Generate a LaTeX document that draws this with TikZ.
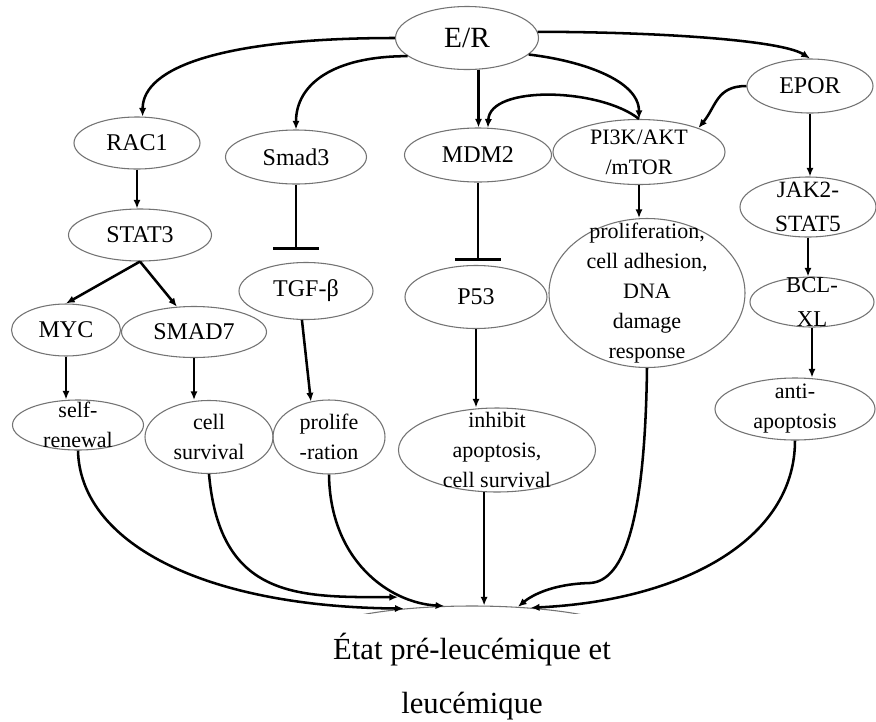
\documentclass[tikz,border=0pt]{standalone}
\usepackage{fontspec}
\setmainfont{Liberation Serif}
\usetikzlibrary{arrows.meta,shapes.geometric}
\begin{document}
\begin{tikzpicture}[x=0.75pt,y=-0.75pt,
  ell/.style={ellipse, draw=black!55, line width=0.8pt, inner sep=0pt},
  sz/.style 2 args={minimum width=#1*0.75pt, minimum height=#2*0.75pt},
  lbl/.style={font=\fontsize{18}{22.5}\selectfont, align=center, inner sep=0pt},
  outtxt/.style={font=\fontsize{16.5}{22.5}\selectfont, align=center, inner sep=0pt},
  arr/.style={line width=1.9pt, -{Latex[length=6.5pt,width=5.5pt]}},
  inhib/.style={line width=1.9pt, -{Bar[width=34pt,line width=2.2pt]}},
]
\useasboundingbox[fill=white] (0,0) rectangle (876,722);

% nodes
\node[ell, sz={143}{63}, label={[lbl, font=\fontsize{22}{26}\selectfont]center:E/R}] (er) at (467,38) {};
\node[ell, sz={126}{52}, label={[lbl]center:RAC1}] (rac1) at (137,143) {};
\node[ell, sz={141}{54}, label={[lbl]center:Smad3}] (smad3) at (296,157) {};
\node[ell, sz={147}{54}, label={[lbl]center:MDM2}] (mdm2) at (478,155) {};
\node[ell, sz={172}{65}, label={[lbl, font=\fontsize{16.5}{22.5}\selectfont]center:{PI3K/AKT\\/mTOR}}] (pi3k) at (639,152) {};
\node[ell, sz={126}{54}, label={[lbl]center:EPOR}] (epor) at (810,86) {};
\node[ell, sz={143}{52}, label={[lbl]center:STAT3}] (stat3) at (140,235) {};
\node[ell, sz={134}{57}, label={[lbl]center:TGF-β}] (tgf) at (306,291) {};
\node[ell, sz={109}{52}, label={[lbl]center:MYC}] (myc) at (66,330) {};
\node[ell, sz={145}{51}, label={[lbl]center:SMAD7}] (smad7) at (194,332) {};
\node[ell, sz={142}{63}, label={[lbl]center:P53}] (p53) at (476,297) {};
\node[ell, sz={196}{149}, label={[outtxt]center:{proliferation,\\cell adhesion,\\DNA\\damage\\response}}] (pro) at (647,293) {};
\node[ell, sz={136}{60}, label={[lbl, font=\fontsize{17.5}{25}\selectfont]center:{JAK2-\\STAT5}}] (jak2) at (808,207) {};
\node[ell, sz={124}{50}, label={[lbl, font=\fontsize{17}{25}\selectfont]center:{BCL-\\XL}}] (bcl) at (812,302) {};
\node[ell, sz={160}{62}, label={[outtxt]center:{anti-\\apoptosis}}] (anti) at (795,409) {};
\node[ell, sz={131}{50}, label={[outtxt]center:{self-\\renewal}}] (sr) at (78,425) {};
\node[ell, sz={128}{73}, label={[outtxt]center:{cell\\survival}}] (cs) at (209,437) {};
\node[ell, sz={112}{74}, label={[outtxt]center:{prolife\\-ration}}] (prol) at (329,437) {};
\node[ell, sz={197}{84}, label={[outtxt]center:{inhibit\\apoptosis,\\cell survival}}] (inh) at (497,450) {};
\begin{scope}
  \clip (0,0) rectangle (876,613);
  \node[ell, sz={324}{66}] (st) at (472,639) {};
\end{scope}
\node[font=\fontsize{23}{27}\selectfont, inner sep=0pt] (t1) at (472,650) {État pré-leucémique et};
\node[font=\fontsize{23}{27}\selectfont, inner sep=0pt] (t2) at (472,706) {leucémique};

% top connectors
\draw[arr] (er.west) .. controls +(-170,0) and +(0,-50) .. (rac1.78);
\draw[arr] (er.197) .. controls +(-75,0) and +(0,-45) .. (smad3.north);
\draw[arr] (er.290) -- (er.290 |- mdm2.north);
\draw[arr] (er.-15) .. controls +(52,6) and +(0,-39) .. (pi3k.north);
\draw[arr] (er.5) .. controls +(112,0) and +(-30,-19) .. (epor.north);
\draw[arr] (pi3k.north) .. controls +(-39,-31) and +(2,-43) .. (mdm2.70);
\draw[arr] (epor.west) .. controls +(-30,0) and +(18,-22) .. (pi3k.22);
\draw[arr] (epor.south) -- (epor.south |- jak2.north);

% middle connectors
\draw[arr] (rac1.south) -- (rac1.south |- stat3.north);
\draw[inhib, shorten >=9pt] (smad3.south) -- (smad3.south |- tgf.north);
\draw[inhib, shorten >=3pt] (mdm2.south) -- (mdm2.south |- p53.north);
\draw[arr] (stat3.south) -- (myc.north);
\draw[arr] (stat3.south) -- (smad7.124);
\draw[arr] (myc.south) -- (myc.south |- sr.north);
\draw[arr] (smad7.south) -- (smad7.south |- cs.north);
\draw[arr] (tgf.262) -- (prol.117);
\draw[arr] (pi3k.south) -- (pi3k.south |- pro.north);
\draw[arr] (p53.south) -- (p53.south |- inh.north);
\draw[arr] (jak2.south) -- (jak2.south |- bcl.north);
\draw[arr] (bcl.south) -- (bcl.south |- anti.north);

% bottom connectors
\draw[arr] (sr.south) .. controls +(2,90) and +(-205,-2) .. (st.156);
\draw[arr] (cs.south) .. controls +(11,126) and +(-98,0) .. ([yshift=9pt]st.158);
\draw[arr] (prol.south) .. controls +(1,86) and +(-55,-3) .. (st.130);
\draw[arr] (inh.253) -- (inh.253 |- st.north);
\draw[arr] (pro.south) .. controls +(-2,150) and +(35,-2) .. (590,583)
  .. controls +(-40,1) and +(12,-10) .. (st.35);
\draw[arr] (anti.south) .. controls +(0,100) and +(150,-7) .. (st.28);
\end{tikzpicture}
\end{document}
